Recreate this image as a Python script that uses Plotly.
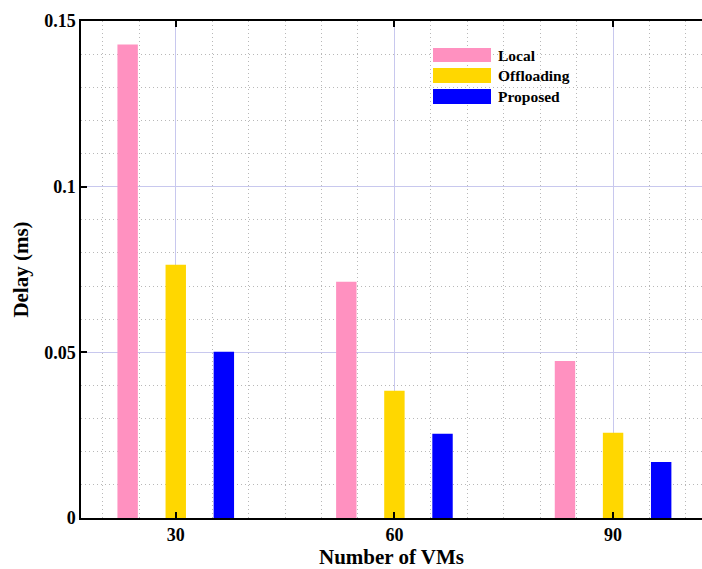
import plotly.graph_objects as go

# ---- data ----
vms = [30, 60, 90]
series_names = ["Local", "Offloading", "Proposed"]
local = [0.1429, 0.0713, 0.0474]
offloading = [0.0764, 0.0384, 0.0257]
proposed = [0.0502, 0.0254, 0.0169]
y_tick_vals = [0, 0.05, 0.1, 0.15]
y_tick_text = ["0", "0.05", "0.1", "0.15"]
x_tick_text = ["30", "60", "90"]

colors = ["#FF91C0", "#FFD700", "#0000FF"]
values = [local, offloading, proposed]

W, H = 702, 569
ML, MR, MT, MB = 81, 0, 21, 51
PW, PH = W - ML - MR, H - MT - MB

FONT = "Liberation Serif"

fig = go.Figure()
bar_w = 2.8
offsets = [-6.6 - bar_w / 2, -bar_w / 2, 6.6 - bar_w / 2]
for name, vals, c, off in zip(series_names, values, colors, offsets):
    fig.add_trace(go.Bar(
        x=vms, y=vals, name=name, width=bar_w, offset=off,
        marker=dict(color=c, line=dict(width=0)),
        showlegend=False,
    ))

def px_x(px):
    return (px - ML) / PW

def px_y(py):
    return 1 - (py - MT) / PH

# custom legend (wide colour swatches like the reference)
sw_x0, sw_x1 = 433, 491
rows = [(48, 62), (68, 83), (89, 104)]
for (y0, y1), c, name in zip(rows, colors, series_names):
    fig.add_shape(type="rect", xref="paper", yref="paper",
                  x0=px_x(sw_x0), x1=px_x(sw_x1), y0=px_y(y1), y1=px_y(y0),
                  fillcolor=c, line=dict(width=0), layer="above")
    fig.add_annotation(xref="paper", yref="paper", x=px_x(496), y=px_y((y0 + y1) / 2),
                       text=f"<b>{name}</b>", showarrow=False, xanchor="left", yanchor="middle",
                       font=dict(family=FONT, size=15.5, color="black"))

axis_common = dict(
    showline=True, linecolor="black", linewidth=1.5,
    ticks="inside", ticklen=6, tickcolor="black", tickwidth=1.5,
    gridcolor="#C8C8EE", gridwidth=1, zeroline=False,
    tickfont=dict(family=FONT, size=18, color="black"),
)
minor_grid = dict(showgrid=True, gridcolor="#B8B8B8", griddash="1px,3px", gridwidth=1, ticks="")

fig.update_layout(
    width=W, height=H,
    margin=dict(l=ML, r=MR, t=MT, b=MB, pad=0, autoexpand=False),
    paper_bgcolor="white", plot_bgcolor="white",
    barmode="overlay",
    showlegend=False,
    xaxis=dict(
        axis_common,
        range=[17, 102.2],
        tickvals=vms, ticktext=[f"<b>{t}</b>" for t in x_tick_text],
        mirror="ticks",
        title=dict(text="<b>Number of VMs</b>", font=dict(family=FONT, size=21, color="black"), standoff=5),
        minor=dict(minor_grid, dtick=5, tick0=0),
    ),
    yaxis=dict(
        axis_common,
        range=[0, 0.15],
        tickvals=y_tick_vals, ticktext=[f"<b>{t}</b>" for t in y_tick_text],
        title=dict(text="<b>Delay (ms)</b>", font=dict(family=FONT, size=21, color="black"), standoff=10),
        minor=dict(minor_grid, dtick=0.01, tick0=0),
    ),
)

fig.write_html("out.html", config={"displayModeBar": False},
               post_script="document.body.style.margin='0';document.body.style.overflow='hidden';")
